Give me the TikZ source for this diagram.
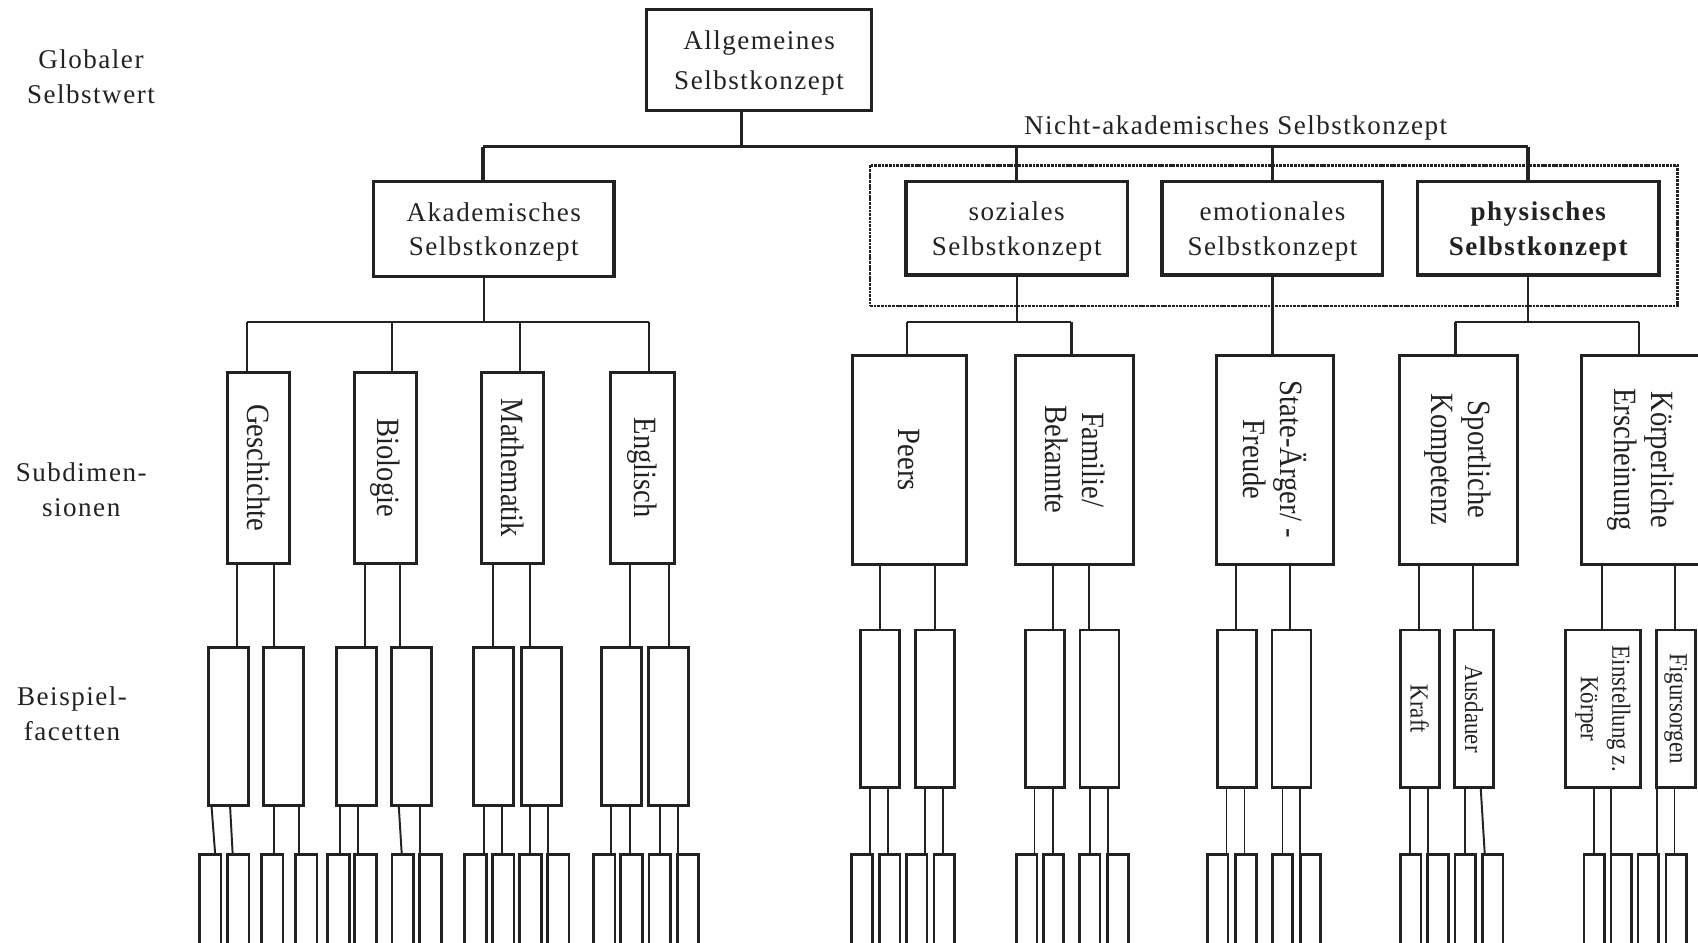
\documentclass[tikz,border=0pt]{standalone}
\usepackage{fontspec}
\setmainfont{Liberation Serif}
\newfontfamily\spacedserif[LetterSpace=5.5]{Liberation Serif}
\newfontfamily\narrowserif[FakeStretch=0.88]{Liberation Serif}
\definecolor{ink}{HTML}{222222}

\tikzset{
  frame/.style={draw=ink, text=ink, line width=1.45pt, inner sep=0pt, align=center},
  headbox/.style={frame, text depth=0pt, font={\spacedserif\fontsize{12.5}{16}\selectfont}},
  subbox/.style={draw=ink, line width=1.4pt, inner sep=0pt},
  facetbox/.style={draw=ink, line width=1.35pt, inner sep=0pt},
  leafbox/.style={draw=ink, line width=1.25pt, inner sep=0pt, minimum height=48pt},
  vlabel/.style={rotate=-90, align=center, inner sep=0pt, text=ink,
                 font={\narrowserif\fontsize{15}{17}\selectfont}},
  flabel/.style={rotate=-90, align=center, inner sep=0pt, text=ink,
                 font={\narrowserif\fontsize{12}{14.5}\selectfont}},
  sidelabel/.style={align=center, inner sep=0pt, text=ink,
                    font={\spacedserif\fontsize{12.5}{16}\selectfont}},
  bus/.style={draw=ink, line width=1.45pt},
  link/.style={draw=ink, line width=1pt},
  fine/.style={draw=ink, line width=0.9pt},
  group/.style={draw=ink, line width=1.3pt,
                dash pattern=on 1.3pt off 0.4pt, inner sep=0pt},
}

\begin{document}
\begin{tikzpicture}[x=0.5pt, y=-0.5pt]
\useasboundingbox (0,0) rectangle (1568,870);
\clip (0,0) rectangle (1568,870);

% level labels on the left
\node[sidelabel] (lvl1) at (84,71) {Globaler\\Selbstwert};
\node[sidelabel] (lvl2) at (75,452) {Subdimen-\\sionen};
\node[sidelabel] (lvl3) at (66.5,659) {Beispiel-\\facetten};

% top of the hierarchy
\node[headbox, minimum width=104pt, minimum height=46.5pt,
      font={\spacedserif\fontsize{12.5}{18.5}\selectfont}] (all) at (701,55.5)
      {Allgemeines\\Selbstkonzept};
\node[headbox, minimum width=111pt, minimum height=43.75pt] (akad) at (456,211.7)
      {Akademisches\\Selbstkonzept};

% non-academic group
\node[group, minimum width=372.9pt, minimum height=65pt] (nonacad) at (1176.2,217.5) {};
\node[sidelabel] (nonacadlbl) at (1141,118) {Nicht-akademisches Selbstkonzept};
\node[headbox, minimum width=102.2pt, minimum height=43pt] (soz) at (938.8,211)
      {soziales\\Selbstkonzept};
\node[headbox, minimum width=102pt, minimum height=43pt] (emo) at (1175,211)
      {emotionales\\Selbstkonzept};
\node[headbox, minimum width=111.5pt, minimum height=43pt,
      font={\spacedserif\bfseries\fontsize{12.5}{16.5}\selectfont}] (phys) at (1420.5,211)
      {physisches\\Selbstkonzept};

% subdimensions, academic
\node[subbox, minimum width=28.5pt, minimum height=88pt] (ges) at (238.5,432) {};
\node[subbox, minimum width=29pt,   minimum height=88pt] (bio) at (356,432) {};
\node[subbox, minimum width=28.5pt, minimum height=88pt] (mat) at (473.5,432) {};
\node[subbox, minimum width=29.5pt, minimum height=88pt] (eng) at (593.5,432) {};
\node[vlabel] at (ges.center) {Geschichte};
\node[vlabel] at (bio.center) {Biologie};
\node[vlabel] at (mat.center) {Mathematik};
\node[vlabel] at (eng.center) {Englisch};

% subdimensions, non-academic
\node[subbox, minimum width=52.75pt, minimum height=96.5pt] (peers) at (839.75,424.5) {};
\node[subbox, minimum width=54.5pt,  minimum height=96.5pt] (fam)   at (992.5,424.5) {};
\node[subbox, minimum width=54pt,    minimum height=96.5pt] (state) at (1177,424.5) {};
\node[subbox, minimum width=54.5pt,  minimum height=96.5pt] (sport) at (1346.5,424.5) {};
\node[subbox, minimum width=54.5pt,  minimum height=96.5pt] (koerp) at (1515,424.5) {};
\node[vlabel] at (peers.center) {Peers};
\node[vlabel] at (fam.center) {Familie/\\Bekannte};
\node[vlabel] at (state.center) {State-Ärger/ -\\Freude};
\node[vlabel] at (sport.center) {Sportliche\\Kompetenz};
\node[vlabel] at (koerp.center) {Körperliche\\Erscheinung};

% example facets, academic
\foreach \n/\x in {ga/211.3, gb/261.8, ba/328.9, bb/380, ma/455.8, mb/500, ea/574.3, eb/617.5}
  \node[facetbox, minimum width=18.5pt, minimum height=73pt] (\n) at (\x,671) {};

% example facets, non-academic
\foreach \n/\x in {pa/812.5, pb/863.5, fa/964.6, fb/1015.3, sa/1142.2, sb/1192.6,
                   kraft/1311, ausd/1361.2, figur/1547.4}
  \node[facetbox, minimum width=18pt, minimum height=72.8pt] (\n) at (\x,654.6) {};
\node[facetbox, minimum width=34.6pt, minimum height=72.8pt] (einst) at (1480.2,654.6) {};
\node[flabel] at (kraft.center) {Kraft};
\node[flabel] at (ausd.center) {Ausdauer};
\node[flabel] at (einst.center) {Einstellung z.\\Körper};
\node[flabel] at (figur.center) {Figursorgen};

% bottom row
\foreach \n/\x in {L1/194, L2/220, L3/251.3, L4/282.8, L5/312.6, L6/337.6, L7/372, L8/397.4,
                   L9/439.1, L10/464.6, L11/489.9, L12/515.4, L13/557.8, L14/583.1,
                   L15/609.3, L16/635.3}
  \node[leafbox, minimum width=10pt] (\n) at (\x,836.85) {};
\foreach \n/\x in {R1/796, R2/821.5, R3/846.6, R4/872, R5/948.2, R6/972.8, R7/1006.4,
                   R8/1032.5, R9/1124.6, R10/1150.7, R11/1184.3, R12/1210.2, R13/1302.7,
                   R14/1327.8, R15/1353.1, R16/1378.4, R17/1472.1, R18/1497.2,
                   R19/1522, R20/1547.8}
  \node[leafbox, minimum width=9.5pt] (\n) at (\x,836.85) {};

% main bus
\coordinate (j0) at (685,135.5);
\coordinate (bL) at (446,135.5);
\coordinate (bR) at (1411,135.5);
\draw[bus] (all.south -| j0) -- (j0);
\draw[bus] (bL) -- (bR);
\draw[bus] (bL) -- (bL |- akad.north);
\draw[bus] (soz.north |- bL) -- (soz.north);
\draw[bus] (emo.north |- bL) -- (emo.north);
\draw[bus] (bR) -- (bR |- phys.north);

% academic branch
\coordinate (aJ) at (447,297);
\coordinate (aL) at (228,297);
\coordinate (aB) at (362,297);
\coordinate (aM) at (480,297);
\coordinate (aR) at (599,297);
\draw[link] (akad.south -| aJ) -- (aJ);
\draw[link] (aL) -- (aR);
\draw[link] (aL) -- (aL |- ges.north);
\draw[link] (aB) -- (aB |- bio.north);
\draw[link] (aM) -- (aM |- mat.north);
\draw[link] (aR) -- (aR |- eng.north);

% social branch
\coordinate (sL) at (837.4,297);
\coordinate (sR) at (989.4,297);
\draw[link] (soz.south) -- (soz.south |- sL);
\draw[link] (sL) -- (sR);
\draw[link] (sL) -- (sL |- peers.north);
\draw[link] (sR) -- (sR |- fam.north);

% emotional branch
\draw[link] (emo.south) -- (emo.south |- state.north);

% physical branch
\coordinate (pJ) at (1411,297);
\coordinate (pL) at (1344,297);
\coordinate (pR) at (1513.7,297);
\draw[link] (phys.south -| pJ) -- (pJ);
\draw[link] (pL) -- (pR);
\draw[link] (pL) -- (pL |- sport.north);
\draw[link] (pR) -- (pR |- koerp.north);

% subdimension -> facet
\foreach \a/\b/\x in {ges/ga/219, ges/gb/252.7, bio/ba/337.2, bio/bb/369.6,
                      mat/ma/455.4, mat/mb/489.1, eng/ea/581.8, eng/eb/617.4,
                      peers/pa/812.5, peers/pb/863.2, fam/fa/972.8, fam/fb/1006,
                      state/sa/1141.4, state/sb/1191.6, sport/kraft/1310.5,
                      sport/ausd/1360.2, koerp/einst/1479.6, koerp/figur/1546.8}
  \draw[fine] (\a.south -| \x,0) -- (\b.north -| \x,0);

% facet -> bottom row
\foreach \a/\b/\p/\q in {ga/L1/195.4/198.6, ga/L2/212.5/214.8, gb/L3/252.7/252.7,
                         gb/L4/275.7/275.7, ba/L5/313.6/313.6, ba/L6/330.4/330.4,
                         bb/L7/368.3/370.9, bb/L8/387.8/387.8, ma/L9/446.7/446.7,
                         ma/L10/463.5/463.5, mb/L11/489.1/489.1, mb/L12/505.7/505.7,
                         ea/L13/564.6/564.6, ea/L14/581.8/581.8, eb/L15/609.6/609.6,
                         eb/L16/626.1/626.1,
                         pa/R1/803.7/803.7, pa/R2/820.3/820.3, pb/R3/854.4/854.4,
                         pb/R4/871/871, fa/R5/955.3/955.3, fa/R6/972.3/972.3,
                         fb/R7/1006.4/1006.4, fb/R8/1023.5/1023.5, sa/R9/1132.6/1132.6,
                         sa/R10/1149.2/1149.2, sb/R11/1184.3/1184.3, sb/R12/1200.4/1200.4,
                         kraft/R13/1302.2/1302.2, kraft/R14/1318.8/1318.8,
                         ausd/R15/1352.9/1352.9, ausd/R16/1367.4/1371,
                         einst/R17/1471.8/1471.8, einst/R18/1487.4/1487.4,
                         figur/R19/1529.8/1529.8, figur/R20/1546.3/1546.3}
  \draw[fine] (\a.south -| \p,0) -- (\b.north -| \q,0);
\end{tikzpicture}
\end{document}
